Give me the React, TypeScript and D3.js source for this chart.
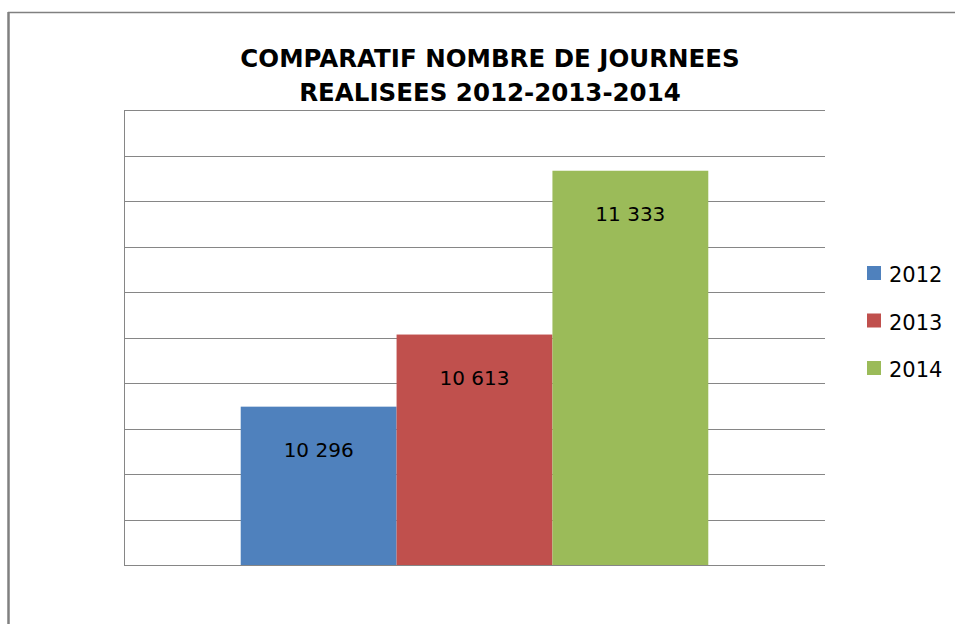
import React, { useEffect, useRef } from 'react';
import * as d3 from 'd3';

// Data
const years = ['2012', '2013', '2014'];
const journees = [10296, 10613, 11333];
const valueLabels = ['10 296', '10 613', '11 333'];
const colors = ['#4F81BD', '#C0504D', '#9BBB59'];
const titleLines = ['COMPARATIF NOMBRE DE JOURNEES', 'REALISEES 2012-2013-2014'];
const yDomain = [9600, 11600];
const yStep = 200;

const App = () => {
  const svgRef = useRef<SVGSVGElement>(null);

  useEffect(() => {
    const el = svgRef.current;
    if (!el) return;
    d3.select(el).selectAll('*').remove();

    const width = 955;
    const height = 624;
    const plot = { left: 124, right: 825, top: 110, bottom: 565 };

    const svg = d3.select(el)
      .attr('width', width)
      .attr('height', height)
      .attr('viewBox', `0 0 ${width} ${height}`);

    // outer frame (only top and left visible)
    svg.append('line')
      .attr('x1', 8).attr('x2', width).attr('y1', 12.5).attr('y2', 12.5)
      .attr('stroke', '#808080').attr('stroke-width', 1.5);
    svg.append('line')
      .attr('x1', 8.5).attr('x2', 8.5).attr('y1', 12).attr('y2', height)
      .attr('stroke', '#808080').attr('stroke-width', 2.5);

    // title
    svg.append('g')
      .selectAll('text')
      .data(titleLines)
      .join('text')
      .attr('x', 490)
      .attr('y', (d, i) => 67 + i * 34)
      .attr('text-anchor', 'middle')
      .style('font-family', '"DejaVu Sans", sans-serif')
      .style('font-weight', 'bold')
      .style('font-size', '24.5px')
      .attr('fill', '#000')
      .text(d => d);

    const y = d3.scaleLinear().domain(yDomain).range([plot.bottom, plot.top]);
    const ticks = d3.range(yDomain[0], yDomain[1] + yStep / 2, yStep);

    // gridlines
    svg.append('g')
      .selectAll('line')
      .data(ticks)
      .join('line')
      .attr('x1', plot.left)
      .attr('x2', plot.right)
      .attr('y1', d => Math.round(y(d)) + 0.5)
      .attr('y2', d => Math.round(y(d)) + 0.5)
      .attr('stroke', '#868686')
      .attr('stroke-width', 1);

    // vertical axis line
    svg.append('line')
      .attr('x1', plot.left + 0.5).attr('x2', plot.left + 0.5)
      .attr('y1', plot.top).attr('y2', plot.bottom + 1)
      .attr('stroke', '#868686').attr('stroke-width', 1);

    // one category, three series side by side
    const groupWidth = (plot.right - plot.left) * 0.667;
    const groupLeft = (plot.left + plot.right) / 2 - groupWidth / 2;
    const x = d3.scaleBand<string>()
      .domain(years)
      .range([groupLeft, groupLeft + groupWidth])
      .padding(0);

    const bars = svg.append('g');
    bars.selectAll('rect')
      .data(journees)
      .join('rect')
      .attr('x', (d, i) => x(years[i]) as number)
      .attr('width', x.bandwidth())
      .attr('y', d => y(d))
      .attr('height', d => plot.bottom - y(d))
      .attr('fill', (d, i) => colors[i]);

    // value labels inside bars
    bars.selectAll('text')
      .data(journees)
      .join('text')
      .attr('x', (d, i) => (x(years[i]) as number) + x.bandwidth() / 2)
      .attr('y', d => y(d) + 50)
      .attr('text-anchor', 'middle')
      .style('font-family', '"DejaVu Sans", sans-serif')
      .style('font-size', '20px')
      .attr('fill', '#000')
      .text((d, i) => valueLabels[i]);

    // legend
    const legend = svg.append('g').attr('transform', 'translate(867, 266)');
    const item = legend.selectAll('g')
      .data(years)
      .join('g')
      .attr('transform', (d, i) => `translate(0, ${i * 47.5})`);
    item.append('rect')
      .attr('width', 14)
      .attr('height', 14)
      .attr('fill', (d, i) => colors[i]);
    item.append('text')
      .attr('x', 22)
      .attr('y', 16)
      .style('font-family', '"DejaVu Sans", sans-serif')
      .style('font-size', '21px')
      .attr('fill', '#000')
      .text(d => d);
  }, []);

  return (
    <div style={{ position: 'absolute', left: 0, top: 0, width: 955, height: 624, background: '#fff' }}>
      <svg ref={svgRef} style={{ display: 'block' }}></svg>
    </div>
  );
};

export default App;
